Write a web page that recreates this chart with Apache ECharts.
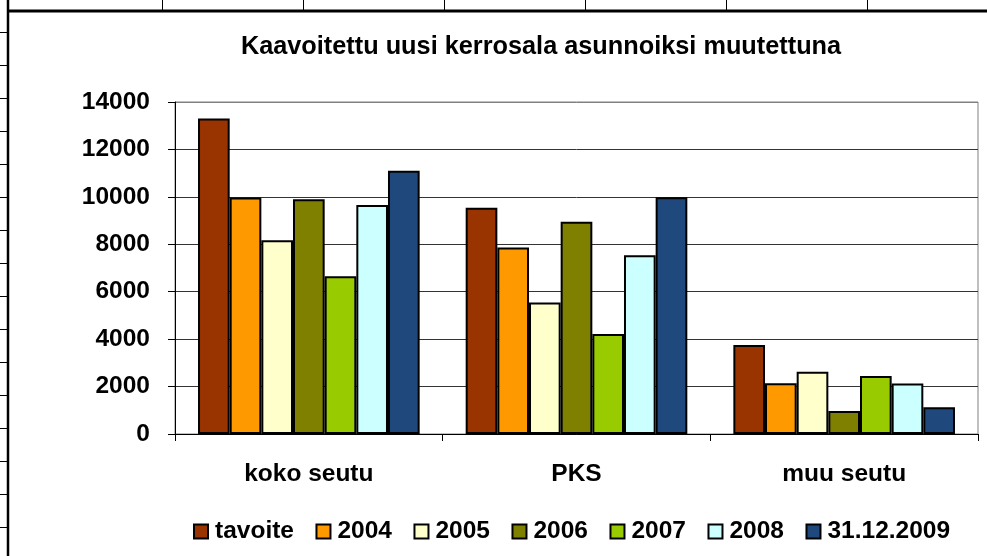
<!DOCTYPE html>
<html>
<head>
<meta charset="utf-8">
<script src="https://cdn.jsdelivr.net/npm/echarts@6/dist/echarts.min.js"></script>
<style>
html,body{margin:0;padding:0;background:#fff;}
#c{width:987px;height:556px;}
</style>
</head>
<body>
<div id="c"></div>
<script>
var titleText = 'Kaavoitettu uusi kerrosala asunnoiksi muutettuna';
var categories = ['koko seutu', 'PKS', 'muu seutu'];
var seriesNames = ['tavoite', '2004', '2005', '2006', '2007', '2008', '31.12.2009'];
var seriesColors = ['#993300', '#FF9900', '#FFFFCC', '#808000', '#99CC00', '#CCFFFF', '#1F497D'];
var tavoite = [13300, 9540, 3750];
var y2004 = [9970, 7860, 2140];
var y2005 = [8170, 5550, 2630];
var y2006 = [9900, 8950, 970];
var y2007 = [6650, 4220, 2450];
var y2008 = [9660, 7540, 2130];
var y2009 = [11100, 9980, 1130];
var yTicks = [0, 2000, 4000, 6000, 8000, 10000, 12000, 14000];

var seriesData = [tavoite, y2004, y2005, y2006, y2007, y2008, y2009];
var FONT = '"Liberation Sans", Arial, sans-serif';

var chart = echarts.init(document.getElementById('c'), null, {renderer: 'canvas'});

// spreadsheet frame decoration
var graphics = [];
graphics.push({type: 'rect', shape: {x: 0, y: 0, width: 987, height: 556}, style: {fill: '#fff'}, z: -10, silent: true});
[162, 303, 444, 585, 726, 867].forEach(function (x) {
  graphics.push({type: 'line', shape: {x1: x + 0.5, y1: 0, x2: x + 0.5, y2: 10}, style: {stroke: '#000', lineWidth: 1}, silent: true});
});
for (var ry = 32; ry <= 540; ry += 33) {
  graphics.push({type: 'line', shape: {x1: 0, y1: ry + 0.5, x2: 7, y2: ry + 0.5}, style: {stroke: '#000', lineWidth: 1}, silent: true});
}
graphics.push({type: 'line', shape: {x1: 7, y1: 11, x2: 987, y2: 11}, style: {stroke: '#000', lineWidth: 3}, silent: true});
graphics.push({type: 'line', shape: {x1: 8, y1: 0, x2: 8, y2: 556}, style: {stroke: '#000', lineWidth: 2.5}, silent: true});

var splitColors = yTicks.map(function (v, i) { return i === yTicks.length - 1 ? '#808080' : '#333'; });

// rich-text legend markers with black border
var legendRich = {
  s: {width: 8, height: 12},
  t: {fontFamily: FONT, fontWeight: 'bold', fontSize: 24.5, color: '#000'}
};
seriesColors.forEach(function (c, i) {
  legendRich['m' + i] = {width: 12, height: 12, backgroundColor: c, borderColor: '#000', borderWidth: 2};
});

chart.setOption({
  animation: false,
  backgroundColor: '#fff',
  graphic: graphics,
  title: {
    text: titleText,
    left: 541,
    top: 35,
    textAlign: 'center',
    padding: 0,
    textStyle: {fontFamily: FONT, fontWeight: 'bold', fontSize: 25.3, color: '#000'}
  },
  legend: {
    data: seriesNames,
    left: 189,
    top: 519,
    padding: 0,
    itemWidth: 0,
    itemHeight: 0,
    itemGap: 17.5,
    icon: 'rect',
    itemStyle: {opacity: 0},
    formatter: function (name) {
      var i = seriesNames.indexOf(name);
      return '{m' + i + '|}{s|}{t|' + name + '}';
    },
    textStyle: {fontFamily: FONT, fontWeight: 'bold', fontSize: 24.5, color: '#000', rich: legendRich}
  },
  grid: {
    left: 175, right: 9, top: 102, bottom: 122,
    show: true, borderColor: '#808080', borderWidth: 1, backgroundColor: 'transparent',
    containLabel: false
  },
  xAxis: {
    type: 'category',
    data: categories,
    axisLine: {show: true, lineStyle: {color: '#000', width: 1}},
    axisTick: {show: true, length: 7, inside: false, lineStyle: {color: '#000'}},
    axisLabel: {fontFamily: FONT, fontWeight: 'bold', fontSize: 24.5, color: '#000', margin: 28},
    splitLine: {show: false}
  },
  yAxis: {
    type: 'value',
    min: yTicks[0],
    max: yTicks[yTicks.length - 1],
    interval: 2000,
    axisLine: {show: true, lineStyle: {color: '#000', width: 1}},
    axisTick: {show: true, length: 7, inside: false, lineStyle: {color: '#000'}},
    axisLabel: {fontFamily: FONT, fontWeight: 'bold', fontSize: 24.5, color: '#000', margin: 25,
      formatter: function (v) { return String(v); }},
    splitLine: {show: true, lineStyle: {color: splitColors, width: 1}}
  },
  series: seriesNames.map(function (name, i) {
    return {
      name: name,
      type: 'bar',
      data: seriesData[i],
      barGap: '0%',
      barCategoryGap: '17.2%',
      itemStyle: {color: seriesColors[i], borderColor: '#000', borderWidth: 2},
      emphasis: {disabled: true}
    };
  })
});
</script>
</body>
</html>
